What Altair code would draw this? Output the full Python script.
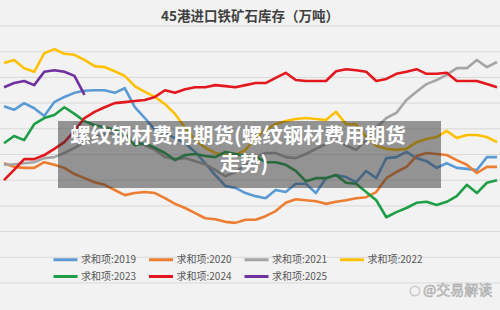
import altair as alt
import pandas as pd

# Weekly iron-ore stock at 45 ports (10k tonnes), one list per year
years = ["2019", "2020", "2021", "2022", "2023", "2024", "2025"]
colors = ["#5b9bd5", "#ed7d31", "#a5a5a5", "#ffc000", "#1f9e48", "#e3171e", "#7030a0"]

s2019 = [13940, 13870, 14000, 13900, 13750, 14020, 14120, 14200, 14240, 14250,
         14250, 14200, 14290, 13920, 13710, 13480, 13420, 13320, 13220, 13050,
         12830, 12600, 12390, 12350, 12250, 12190, 12150, 12310, 12270, 12430,
         12430, 12250, 12540, 12600, 12560, 12460, 12680, 12540, 12930, 12950,
         13050, 12930, 12870, 12740, 12830, 12740, 12720, 12700, 12950, 12950]
s2020 = [12830, 12760, 12740, 12740, 12850, 12800, 12740, 12620, 12540, 12460,
         12410, 12310, 12210, 12250, 12270, 12250, 12150, 12040, 11960, 11860,
         11760, 11740, 11690, 11670, 11730, 11730, 11800, 11900, 12060, 12130,
         12110, 12090, 12040, 12080, 12110, 12150, 12170, 12270, 12540, 12660,
         12760, 12970, 13030, 13010, 12990, 12890, 12800, 12640, 12760, 12760]
s2021 = [12800, 12810, 12830, 12850, 12930, 12950, 13030, 13130, 13240, 13340,
         13400, 13420, 13360, 13280, 13180, 13090, 12950, 12910, 12930, 12870,
         12810, 12700, 12580, 12660, 12800, 12950, 13030, 13030, 12950, 12930,
         13010, 13110, 13200, 13280, 13180, 13090, 13280, 13520, 13710, 13810,
         14060, 14220, 14370, 14450, 14550, 14680, 14680, 14840, 14700, 14800]
s2022 = [14780, 14840, 14680, 14610, 14970, 15050, 14960, 14940, 14840, 14720,
         14700, 14620, 14530, 14330, 14220, 14120, 13980, 13790, 13520, 13280,
         13130, 13030, 12990, 12990, 13090, 13320, 13480, 13590, 13650, 13690,
         13710, 13690, 13670, 13830, 13590, 13590, 13340, 13170, 13110, 13090,
         13110, 13240, 13300, 13340, 13460, 13320, 13380, 13380, 13340, 13240]
s2023 = [13220, 13360, 13280, 13590, 13710, 13770, 13920, 13790, 13650, 13570,
         13530, 13480, 13400, 13180, 13220, 13130, 13030, 12890, 12990, 13010,
         12970, 12950, 13050, 13010, 12970, 12970, 12850, 12850, 12800, 12680,
         12480, 12540, 12540, 12600, 12450, 12430, 12270, 12110, 11780, 11880,
         11960, 12060, 12080, 12020, 12080, 12190, 12410, 12250, 12450, 12500]
s2024 = [12500, 12700, 12910, 12910, 12990, 13110, 13240, 13460, 13710, 13830,
         13920, 14000, 14020, 14040, 14060, 14120, 14250, 14200, 14270, 14310,
         14310, 14350, 14330, 14310, 14350, 14390, 14390, 14490, 14590, 14450,
         14430, 14430, 14430, 14620, 14660, 14640, 14610, 14430, 14470, 14570,
         14610, 14660, 14570, 14570, 14590, 14430, 14430, 14430, 14370, 14310]
s2025 = [14310, 14390, 14430, 14350, 14610, 14640, 14610, 14530, 14160]

series = [s2019, s2020, s2021, s2022, s2023, s2024, s2025]
labels = [f"求和项:{y}" for y in years]

grid_values = [10500, 11000, 11500, 12000, 12500, 13000, 13500, 14000, 14500, 15000, 15500]

title_text = "45港进口铁矿石库存（万吨）"
banner_line1 = "螺纹钢材费用期货(螺纹钢材费用期货"
banner_line2 = "走势)"
mark_text = "@交易解读"

rows = []
for lab, vals in zip(labels, series):
    for i, v in enumerate(vals, start=1):
        rows.append({"week": i, "stock": v, "series": lab})
df = pd.DataFrame(rows)

FONT = "Noto Sans CJK SC"
x_scale = alt.Scale(domain=[0.6, 50.3], nice=False, zero=False)
y_scale = alt.Scale(domain=[9975, 16006], nice=False, zero=False)

grid = alt.Chart(pd.DataFrame({"g": grid_values})).mark_rule(
    color="#d9d9d9", strokeWidth=1
).encode(y=alt.Y("g:Q", scale=y_scale, axis=None))

# Legend swatch: a short horizontal stroke drawn longer than its layout box,
# so the rows can sit close together
swatch = "M-1,0H3"

lines = alt.Chart(df).mark_line(strokeWidth=2.6, strokeJoin="round").encode(
    x=alt.X("week:Q", scale=x_scale, axis=None),
    y=alt.Y("stock:Q", scale=y_scale, axis=None),
    color=alt.Color(
        "series:N",
        scale=alt.Scale(domain=labels, range=colors),
        legend=alt.Legend(
            orient="none", legendX=52, legendY=252, direction="horizontal",
            columns=4, symbolType=swatch, symbolSize=144, symbolStrokeWidth=3,
            labelFont=FONT, labelFontSize=10, labelColor="#595959",
            labelOffset=14, columnPadding=6.5, rowPadding=3, title=None, padding=0,
        ),
    ),
)

one = pd.DataFrame({"t": [0]})

title = alt.Chart(pd.DataFrame({"t": [title_text]})).mark_text(
    font=FONT, fontSize=13.5, fontWeight="bold", color="#404040",
    align="center", baseline="middle",
).encode(text="t:N", x=alt.value(250), y=alt.value(17))

banner = alt.Chart(one).mark_rect(color="#333333", opacity=0.5).encode(
    x=alt.value(58), x2=alt.value(441), y=alt.value(121), y2=alt.value(188)
)

b1 = alt.Chart(pd.DataFrame({"t": [banner_line1]})).mark_text(
    font=FONT, fontSize=20.5, fontWeight="bold", color="white",
    align="center", baseline="middle",
).encode(text="t:N", x=alt.value(238), y=alt.value(137))

b2 = alt.Chart(pd.DataFrame({"t": [banner_line2]})).mark_text(
    font=FONT, fontSize=20.5, fontWeight="bold", color="white",
    align="center", baseline="middle",
).encode(text="t:N", x=alt.value(244), y=alt.value(165))

logo = alt.Chart(one).mark_point(
    shape="circle", size=90, filled=False, color="#b8b8b8", strokeWidth=1.5
).encode(x=alt.value(415), y=alt.value(291))

wm = alt.Chart(pd.DataFrame({"t": [mark_text]})).mark_text(
    font=FONT, fontSize=14, color="#e4e4e4", stroke="#a8a8a8", strokeWidth=0.6,
    align="left", baseline="middle",
).encode(text="t:N", x=alt.value(423), y=alt.value(291))

chart = alt.layer(grid, lines, banner, b1, b2, title, logo, wm).properties(
    width=500, height=310, padding=0, background="#f2f2f2",
    autosize=alt.AutoSizeParams(type="none"),
).configure_view(stroke=None)

chart.save("out.html", embed_options={"renderer": "svg", "actions": False})
